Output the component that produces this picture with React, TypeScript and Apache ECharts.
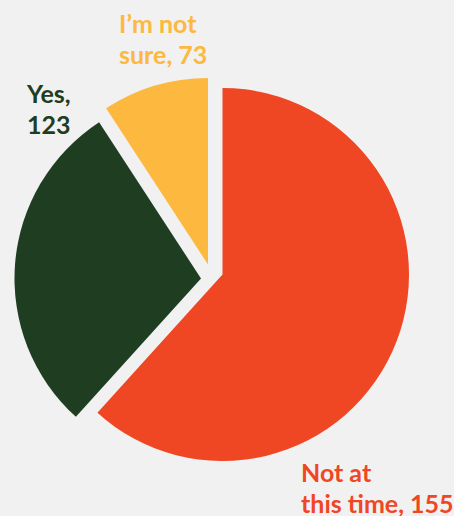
import React, { useEffect, useRef } from "react";
import * as echarts from "echarts";

// Data
const categories = ["Not at\nthis time", "Yes", "I’m not\nsure"];
const counts = [155, 123, 73];
// share of the circle each slice occupies as drawn in the reference (percent)
const sliceShares = [61.7, 29.1, 9.2];
const colors = ["#EF4724", "#1F3D21", "#FDB840"];

const W = 454;
const H = 516;
const R = 186.5;
// each slice is pulled apart from the others: own centre per slice
const centers: [number, number][] = [
  [222.5, 274.5],
  [201, 278.5],
  [208, 264.5],
];
const labelPos: [number, number][] = [
  [301, 456],
  [27, 77.5],
  [119, 7.5],
];

function labelText(i: number) {
  const name = categories[i];
  return name + "," + (name.indexOf("\n") >= 0 ? " " : "\n") + counts[i];
}

export default function App() {
  const ref = useRef<HTMLDivElement>(null);
  useEffect(() => {
    if (!ref.current) return;
    const chart = echarts.init(ref.current, undefined, { renderer: "svg" });
    const series = categories.map((_, s) => ({
      type: "pie",
      center: centers[s],
      radius: [0, R],
      startAngle: 90,
      clockwise: true,
      silent: true,
      avoidLabelOverlap: false,
      emphasis: { disabled: true },
      labelLine: { show: false },
      labelLayout: {
        x: labelPos[s][0],
        y: labelPos[s][1],
        align: "left",
        verticalAlign: "top",
      },
      data: categories.map((name, i) => ({
        name,
        value: sliceShares[i],
        itemStyle: {
          color: i === s ? colors[i] : "rgba(0,0,0,0)",
          borderWidth: 0,
        },
        label: {
          show: i === s,
          position: "outside",
          formatter: () => labelText(i),
          color: colors[i],
          fontFamily: "Lato",
          fontWeight: "bold",
          fontSize: 25,
          lineHeight: 31,
          align: "left",
        },
      })),
    }));
    chart.setOption({
      animation: false,
      backgroundColor: "#F1F1F1",
      series,
    });
    return () => chart.dispose();
  }, []);
  return (
    <div
      ref={ref}
      style={{ position: "fixed", left: 0, top: 0, width: W, height: H }}
    />
  );
}
